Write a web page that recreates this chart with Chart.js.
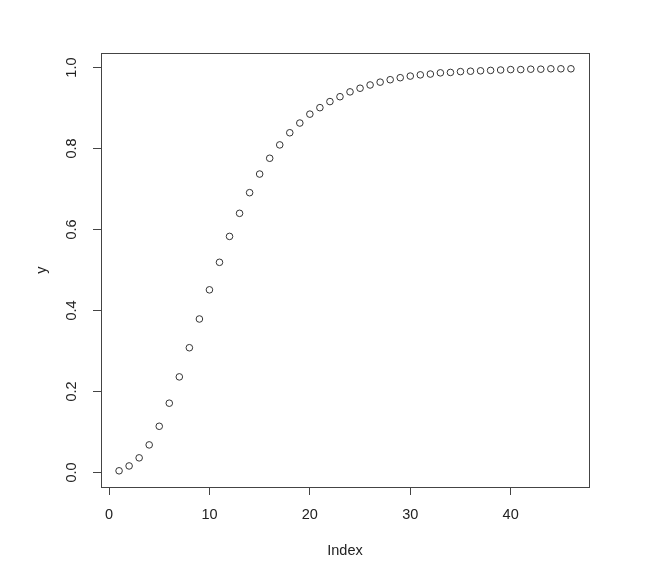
<!DOCTYPE html>
<html>
<head>
<meta charset="utf-8">
<script src="https://cdn.jsdelivr.net/npm/chart.js@4/dist/chart.umd.min.js"></script>
<style>
  html,body{margin:0;padding:0;background:#fff;}
  #wrap{width:663px;height:587px;}
</style>
</head>
<body>
<div id="wrap"><canvas id="c" width="663" height="587"></canvas></div>
<script>
/* ===== DATA ===== */
const indexVals=[1,2,3,4,5,6,7,8,9,10,11,12,13,14,15,16,17,18,19,20,21,22,23,
  24,25,26,27,28,29,30,31,32,33,34,35,36,37,38,39,40,41,42,43,44,45,46];
const yVals=[0.004,0.016,0.036,0.068,0.114,0.171,0.236,0.308,0.379,0.451,0.519,0.583,
  0.640,0.691,0.737,0.776,0.809,0.839,0.863,0.885,0.901,0.916,0.928,0.940,0.949,
  0.957,0.964,0.970,0.975,0.979,0.982,0.984,0.987,0.988,0.990,0.991,0.992,0.993,
  0.994,0.995,0.995,0.996,0.996,0.997,0.997,0.997];
const xTicks=[0,10,20,30,40];
const yTicks=[0.0,0.2,0.4,0.6,0.8,1.0];
const xTitle='Index';
const yTitle='y';

const FONT='"Liberation Sans", Arial, Helvetica, sans-serif';
const INK='#222';
const AXIS='#444';

// box round the plot area, rotated y tick labels and axis titles (R style)
const rPlot={
  id:'rPlot',
  afterDraw(chart){
    const {ctx,chartArea:a,scales:{y}}=chart;
    ctx.save();
    ctx.strokeStyle=AXIS;ctx.lineWidth=1;
    ctx.strokeRect(a.left+0.5,a.top+0.5,a.right-a.left,a.bottom-a.top);
    ctx.fillStyle=INK;ctx.font='14.5px '+FONT;
    ctx.textAlign='center';ctx.textBaseline='middle';
    const rot=(txt,x,yy)=>{
      ctx.save();ctx.translate(x,yy);ctx.rotate(-Math.PI/2);
      ctx.fillText(txt,0,0);ctx.restore();
    };
    yTicks.forEach(v=>rot(v.toFixed(1),a.left-29,y.getPixelForValue(v)));
    rot(yTitle,a.left-59,(a.top+a.bottom)/2);
    ctx.fillText(xTitle,(a.left+a.right)/2,a.bottom+64);
    ctx.restore();
  }
};

new Chart(document.getElementById('c'),{
  type:'scatter',
  data:{datasets:[{
    data:indexVals.map((x,i)=>({x,y:yVals[i]})),
    pointStyle:'circle',pointRadius:3.3,pointBorderWidth:1,
    pointBorderColor:'#333',pointBackgroundColor:'rgba(0,0,0,0)',
    pointHoverRadius:3.3
  }]},
  options:{
    responsive:false,animation:false,devicePixelRatio:1,
    layout:{padding:{top:53,right:74,left:0,bottom:0}},
    plugins:{legend:{display:false},tooltip:{enabled:false}},
    events:[],
    scales:{
      x:{
        type:'linear',min:-0.8,max:47.8,
        afterBuildTicks:s=>{s.ticks=xTicks.map(v=>({value:v}));},
        afterFit:s=>{s.height=100;},
        border:{display:false},
        grid:{drawOnChartArea:false,drawTicks:true,tickLength:8,color:AXIS},
        ticks:{color:INK,font:{family:FONT,size:14.5},padding:11,maxRotation:0,
          callback:v=>String(v)}
      },
      y:{
        type:'linear',min:-0.036,max:1.036,
        afterBuildTicks:s=>{s.ticks=yTicks.map(v=>({value:v}));},
        afterFit:s=>{s.width=101;},
        border:{display:false},
        grid:{drawOnChartArea:false,drawTicks:true,tickLength:8,color:AXIS},
        ticks:{display:false}
      }
    }
  },
  plugins:[rPlot]
});
</script>
</body>
</html>
